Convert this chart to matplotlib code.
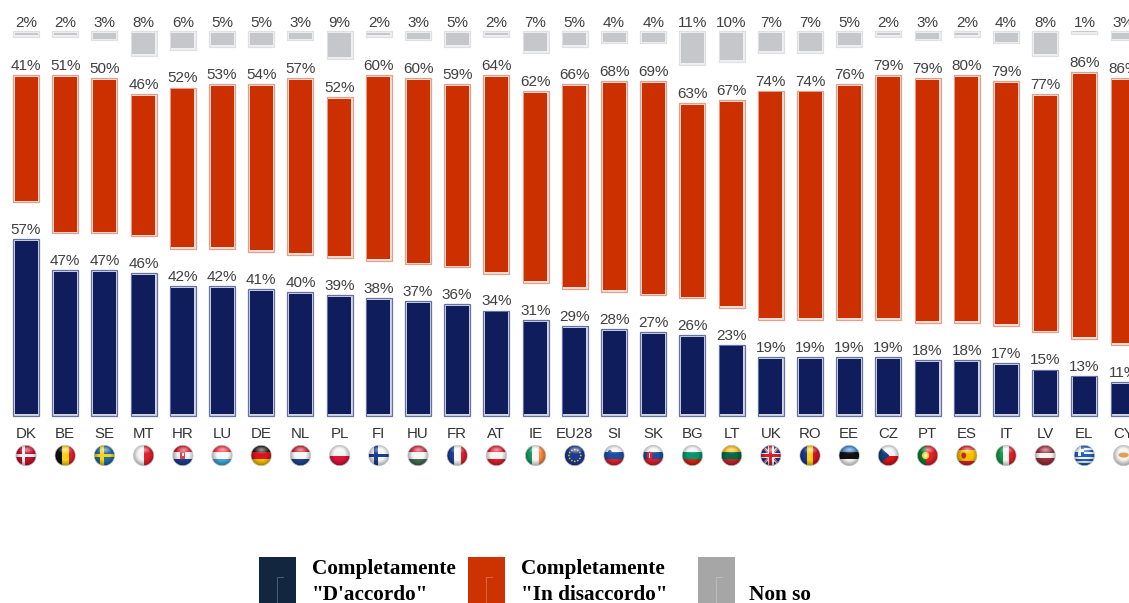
import matplotlib
matplotlib.use('Agg')
import matplotlib.pyplot as plt
from matplotlib.patches import Circle, Rectangle, Polygon, Ellipse
import numpy as np

plt.rcParams['font.family'] = ['Liberation Sans', 'DejaVu Sans']

countries = ['DK', 'BE', 'SE', 'MT', 'HR', 'LU', 'DE', 'NL', 'PL', 'FI', 'HU', 'FR', 'AT', 'IE', 'EU28',
             'SI', 'SK', 'BG', 'LT', 'UK', 'RO', 'EE', 'CZ', 'PT', 'ES', 'IT', 'LV', 'EL', 'CY']
agree = [57, 47, 47, 46, 42, 42, 41, 40, 39, 38, 37, 36, 34, 31, 29,
         28, 27, 26, 23, 19, 19, 19, 19, 18, 18, 17, 15, 13, 11]
disagree = [41, 51, 50, 46, 52, 53, 54, 57, 52, 60, 60, 59, 64, 62, 66,
            68, 69, 63, 67, 74, 74, 76, 79, 79, 80, 79, 77, 86, 86]
dont_know = [2, 2, 3, 8, 6, 5, 5, 3, 9, 2, 3, 5, 2, 7, 5,
             4, 4, 11, 10, 7, 7, 5, 2, 3, 2, 4, 8, 1, 3]
legend_labels = ['Completamente\n"D\'accordo"', 'Completamente\n"In disaccordo"', 'Non so']

# Colors
navy = '#101d5c'
red = '#cc3000'
grey = '#c6c7cb'
text_col = '#404040'

W, H = 1129, 603
X0, DX = 26, 39.2      # pixel of first bar, pixels per category
Y0, PX = 416, 3.1      # pixel of the zero line, pixels per percent
GAP = 37 / PX          # gap between navy and red bars
GREY_TOP = (Y0 - 31) / PX

fig = plt.figure(figsize=(W / 100, H / 100), dpi=100, facecolor='white')
ax = fig.add_axes([0, 0, 1, 1])
ax.set_xlim(-X0 / DX, (W - X0) / DX)
ax.set_ylim((Y0 - H) / PX, Y0 / PX)
ax.axis('off')

x = np.arange(len(countries))
a = np.array(agree, dtype=float)
d = np.array(disagree, dtype=float)
n = np.array(dont_know, dtype=float)
BW = 26 / DX
INW = 23 / DX
INS = 1.8 / PX


def framed(xs, bottom, height, fill, outer, inner):
    ax.bar(xs, height, BW, bottom=bottom, color=inner, edgecolor=outer, linewidth=0.9, zorder=2)
    ax.bar(xs, np.maximum(height - 2 * INS, 0.5), INW, bottom=bottom + INS, color=fill, linewidth=0, zorder=3)


framed(x, np.zeros_like(a), a, navy, '#6572a0', '#d2d6e6')
framed(x, a + GAP, d, red, '#e0a08c', '#f8e0d8')
framed(x, GREY_TOP - n, n, grey, '#e0e0e2', '#f0f0f1')

for i in x:
    ax.annotate(f'{agree[i]}%', (i, a[i]), xytext=(0, 6.6), textcoords='offset points',
                ha='center', va='center', fontsize=11, color=text_col, zorder=5)
    ax.annotate(f'{disagree[i]}%', (i, a[i] + GAP + d[i]), xytext=(0, 6.6), textcoords='offset points',
                ha='center', va='center', fontsize=11, color=text_col, zorder=5)
    ax.annotate(f'{dont_know[i]}%', (i, GREY_TOP), xytext=(0, 5.6), textcoords='offset points',
                ha='center', va='center', fontsize=11, color=text_col, zorder=5)

# Pixel overlay for the country labels, flags and legend
ov = fig.add_axes([0, 0, 1, 1], facecolor='none')
ov.axis('off')

# stripes: direction, (colour, weight)...
flags = {
    'DK': ('h', [('#c8102e', 1)]),
    'BE': ('v', [('#111111', 1), ('#f7d417', 1), ('#e0212f', 1)]),
    'SE': ('h', [('#1f6ea8', 1)]),
    'MT': ('v', [('#f4f4f4', 1), ('#e0202c', 1)]),
    'HR': ('h', [('#d8182c', 1), ('#f4f4f4', 1), ('#1c3f94', 1)]),
    'LU': ('h', [('#ef3340', 1), ('#f8f8f8', 1), ('#3fa9e0', 1)]),
    'DE': ('h', [('#1a1a1a', 1), ('#d8141e', 1), ('#f5c400', 1)]),
    'NL': ('h', [('#c8202e', 1), ('#f6f6f6', 1), ('#20468c', 1)]),
    'PL': ('h', [('#f4f4f4', 1), ('#dc143c', 1)]),
    'FI': ('h', [('#f4f4f4', 1)]),
    'HU': ('h', [('#cd2a3e', 1), ('#f6f6f6', 1), ('#436f4d', 1)]),
    'FR': ('v', [('#1c3f94', 1), ('#f6f6f6', 1), ('#e0202c', 1)]),
    'AT': ('h', [('#e0202c', 1), ('#f6f6f6', 1), ('#e0202c', 1)]),
    'IE': ('v', [('#169b62', 1), ('#f6f6f6', 1), ('#ff883e', 1)]),
    'EU28': ('h', [('#1c3a94', 1)]),
    'SI': ('h', [('#f4f4f4', 1), ('#1c4fa0', 1), ('#e0202c', 1)]),
    'SK': ('h', [('#f4f4f4', 1), ('#1c4fa0', 1), ('#e0202c', 1)]),
    'BG': ('h', [('#f4f4f4', 1), ('#00966e', 1), ('#d62612', 1)]),
    'LT': ('h', [('#fdb913', 1), ('#006a44', 1), ('#c1272d', 1)]),
    'UK': ('h', [('#24357a', 1)]),
    'RO': ('v', [('#1c3a94', 1), ('#fcd116', 1), ('#ce1126', 1)]),
    'EE': ('h', [('#3a80c8', 1), ('#111111', 1), ('#f4f4f4', 1)]),
    'CZ': ('h', [('#f4f4f4', 1), ('#d7141a', 1)]),
    'PT': ('v', [('#0a7a3a', 2), ('#e0202c', 3)]),
    'ES': ('h', [('#d8202c', 1), ('#fabd00', 2), ('#d8202c', 1)]),
    'IT': ('v', [('#1a9a4a', 1), ('#f6f6f6', 1), ('#e0202c', 1)]),
    'LV': ('h', [('#9e3039', 2), ('#f4f4f4', 1), ('#9e3039', 2)]),
    'EL': ('h', [('#1f5fc0', 1), ('#f4f4f4', 1), ('#1f5fc0', 1), ('#f4f4f4', 1), ('#1f5fc0', 1),
                 ('#f4f4f4', 1), ('#1f5fc0', 1), ('#f4f4f4', 1), ('#1f5fc0', 1)]),
    'CY': ('h', [('#f2f2f2', 1)]),
}

yy, xx = np.mgrid[-1:1:64j, -1:1:64j]
shade = np.zeros((64, 64, 4))
rr = np.hypot(xx, yy + 0.1)
shade[..., 3] = np.clip((rr - 0.55) / 0.6, 0, 1) * 0.4
gloss = np.ones((64, 64, 4))
gloss[..., 3] = np.clip(1 - np.hypot(xx / 0.75, (yy + 0.55) / 0.4), 0, 1) * 0.6


def extras(code, cx, cy, r, clip):
    def rect(x0, y0, w, h, c):
        p = Rectangle((cx + x0 * r, cy + y0 * r), w * r, h * r, fc=c, lw=0, zorder=6)
        ov.add_patch(p)
        p.set_clip_path(clip)

    def blob(x0, y0, rx, ry, c):
        p = Ellipse((cx + x0 * r, cy + y0 * r), 2 * rx * r, 2 * ry * r, fc=c, lw=0, zorder=6)
        ov.add_patch(p)
        p.set_clip_path(clip)

    if code == 'DK':
        rect(-0.4, -1, 0.3, 2, '#f4f4f4')
        rect(-1, -0.15, 2, 0.3, '#f4f4f4')
    elif code == 'SE':
        rect(-0.4, -1, 0.35, 2, '#f7d417')
        rect(-1, -0.17, 2, 0.34, '#f7d417')
    elif code == 'FI':
        rect(-0.45, -1, 0.35, 2, '#1c3f94')
        rect(-1, -0.17, 2, 0.34, '#1c3f94')
    elif code == 'HR':
        rect(-0.25, -0.4, 0.5, 0.7, '#e04050')
        rect(-0.08, -0.2, 0.16, 0.25, '#f4f4f4')
    elif code == 'SI':
        blob(-0.4, -0.3, 0.2, 0.25, '#1c4fa0')
    elif code == 'SK':
        blob(-0.35, 0, 0.3, 0.38, '#e0202c')
        rect(-0.38, -0.25, 0.06, 0.45, '#f4f4f4')
    elif code == 'EU28':
        for t in np.linspace(0, 2 * np.pi, 12, endpoint=False):
            blob(0.58 * np.cos(t), 0.58 * np.sin(t), 0.08, 0.08, '#f7d417')
    elif code == 'UK':
        for sign in (1, -1):
            p = Polygon([(cx - r, cy - sign * r), (cx - r + 3, cy - sign * r),
                         (cx + r, cy + sign * r), (cx + r - 3, cy + sign * r)],
                        fc='#f4f4f4', lw=0, zorder=6)
            ov.add_patch(p)
            p.set_clip_path(clip)
            p = Polygon([(cx - r, cy - sign * r), (cx - r + 1.2, cy - sign * r),
                         (cx + r, cy + sign * r), (cx + r - 1.2, cy + sign * r)],
                        fc='#d8202c', lw=0, zorder=6)
            ov.add_patch(p)
            p.set_clip_path(clip)
        rect(-1, -0.28, 2, 0.56, '#f4f4f4')
        rect(-0.28, -1, 0.56, 2, '#f4f4f4')
        rect(-1, -0.15, 2, 0.3, '#d8202c')
        rect(-0.15, -1, 0.3, 2, '#d8202c')
    elif code == 'CZ':
        p = Polygon([(cx - r, cy - r), (cx + 0.1 * r, cy), (cx - r, cy + r)], fc='#11457e', lw=0, zorder=6)
        ov.add_patch(p)
        p.set_clip_path(clip)
    elif code == 'PT':
        blob(-0.2, 0, 0.36, 0.36, '#f7d417')
        blob(-0.2, 0, 0.18, 0.2, '#e8e8e8')
    elif code == 'ES':
        blob(-0.3, 0, 0.24, 0.3, '#b03020')
    elif code == 'EL':
        rect(-1, -1, 1.0, 1.0, '#1f5fc0')
        rect(-0.62, -1, 0.24, 1.0, '#f4f4f4')
        rect(-1, -0.62, 1.0, 0.24, '#f4f4f4')
    elif code == 'CY':
        blob(0, -0.05, 0.5, 0.25, '#e0a050')


def draw_flag(code, cx, cy, r=10.2):
    clip = Circle((cx, cy), r, transform=ov.transData)
    direction, stripes = flags[code]
    total = sum(s[1] for s in stripes)
    pos = -r
    for colour, weight in stripes:
        size = 2 * r * weight / total
        if direction == 'h':
            p = Rectangle((cx - r, cy + pos), 2 * r, size, fc=colour, lw=0, zorder=5)
        else:
            p = Rectangle((cx + pos, cy - r), size, 2 * r, fc=colour, lw=0, zorder=5)
        ov.add_patch(p)
        p.set_clip_path(clip)
        pos += size
    extras(code, cx, cy, r, clip)
    ext = (cx - r, cx + r, cy + r, cy - r)
    for img in (shade, gloss):
        im = ov.imshow(img, extent=ext, aspect='auto', zorder=7, interpolation='bilinear')
        im.set_clip_path(clip)
    ov.add_patch(Circle((cx, cy), r, fc='none', ec='#c4c4c4', lw=0.5, zorder=8))


for i, code in enumerate(countries):
    cx = X0 + DX * i
    ov.text(cx, 433.5, code, ha='center', va='center', fontsize=10.8, color='#333333')
    draw_flag(code, cx, 455.5)

# Legend
swatches = [(259, '#12263f', 312), (468, '#cc3300', 521), (698, '#a6a6a6', 749)]
for (sx, col, tx), label in zip(swatches, legend_labels):
    ov.add_patch(Rectangle((sx, 557), 37, 50, fc=col, ec='none', zorder=3))
    ov.plot([sx + 18, sx + 18, sx + 24], [H + 2, 577, 577], color='white', alpha=0.25, lw=0.7, zorder=4)
    lines = label.split('\n')
    for j, line in enumerate(lines):
        row = 595 if len(lines) == 1 or j == 1 else 569
        ov.text(tx, row, line, ha='left', va='center', family='Liberation Serif',
                fontweight='bold', fontsize=15.3, color='black')

ov.set_xlim(0, W)
ov.set_ylim(H, 0)

plt.savefig('out.png', dpi=100, facecolor='white')
